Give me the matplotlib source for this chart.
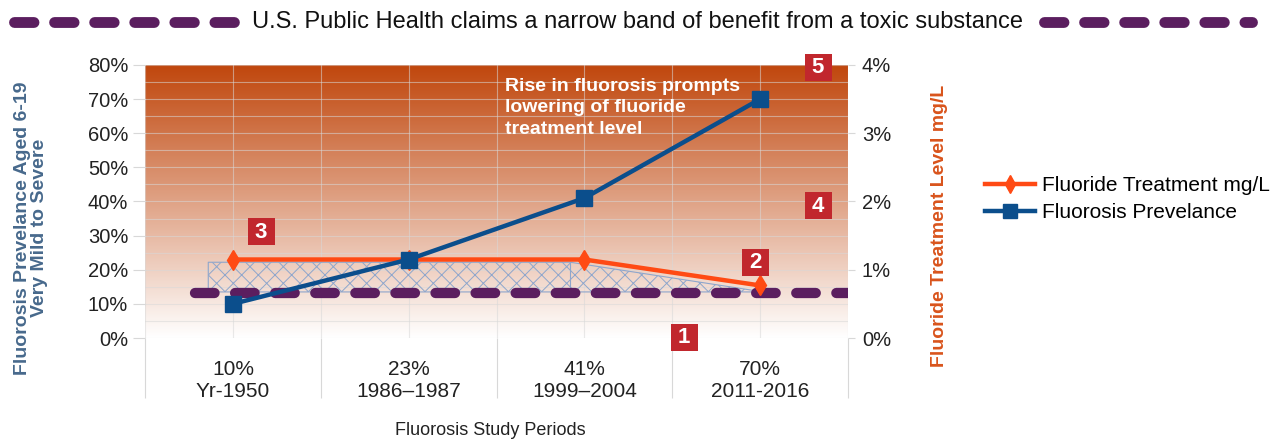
import numpy as np
import matplotlib
matplotlib.use("Agg")
import matplotlib.pyplot as plt
from matplotlib.lines import Line2D
from matplotlib.patches import Rectangle
from matplotlib.colors import LinearSegmentedColormap, Normalize

plt.rcParams['font.family'] = ['Liberation Sans', 'DejaVu Sans']
plt.rcParams['hatch.linewidth'] = 0.7

# ---------------- data ----------------
categories = ["10%\nYr-1950", "23%\n1986\u20131987", "41%\n1999\u20132004", "70%\n2011-2016"]
fluorosis_prevalence = [10, 23, 41, 70]          # % (left axis)
fluoride_treatment = [1.15, 1.15, 1.15, 0.77]    # mg/L shown as % (right axis)
benefit_floor = 0.66                              # purple dashed line (right axis)
band_x = [-0.14, 1.92, 2.98]                      # hatched band outline (category units)
band_top = [1.11, 1.11, 0.69]                     # right-axis units
band_bottom = 0.675
left_ticks = list(range(0, 81, 10))
right_ticks = list(range(0, 5))
badges = ["1", "2", "3", "4", "5"]
title = "U.S. Public Health claims a narrow band of benefit from a toxic substance"
annotation = "Rise in fluorosis prompts\nlowering of fluoride\ntreatment level"

# ---------------- styles ----------------
ORANGE = "#ff4a14"
BLUE = "#0b4e8c"
PURPLE = "#5b1e5f"
BADGE = "#c1272d"
GRID = "#d8d8d8"

W, H = 1286, 440
fig = plt.figure(figsize=(W / 100, H / 100), dpi=100)

L, R, T, B = 145, 848, 65, 338
ax = fig.add_axes([L / W, 1 - B / H, (R - L) / W, (B - T) / H])
ax2 = ax.twinx()
ax.set_zorder(ax2.get_zorder() + 1)
ax.patch.set_visible(False)

x = np.arange(len(categories))
ax.set_xlim(-0.5, len(categories) - 0.5)
ax.set_ylim(0, 80)
ax2.set_ylim(0, 4)

# gradient background
cmap = LinearSegmentedColormap.from_list("g", ["#ffffff", "#c0460c"])
grad = np.linspace(0, 1, 256).reshape(-1, 1)
ax2.imshow(grad, extent=[-0.5, len(categories) - 0.5, 0, 4], origin="lower",
           aspect="auto", cmap=cmap, norm=Normalize(0, 1), zorder=0)

# grid (horizontal every 0.25 right = 5% left, vertical every half category)
ax2.set_yticks(np.arange(0, 4.01, 0.25), minor=True)
ax2.grid(True, which="both", axis="y", color=GRID, lw=0.8, alpha=0.55, zorder=1)
for xv in np.arange(-0.5, len(categories), 0.5):
    ax2.axvline(xv, color=GRID, lw=0.8, alpha=0.55, zorder=1)

# hatched band
ax2.fill_between(band_x, band_top, band_bottom, facecolor="none", edgecolor="#8ea6cc",
                 hatch="xx", lw=0.8, zorder=2)
ax2.plot([band_x[1], band_x[1]], [band_bottom, band_top[1]], color="#8ea6cc", lw=0.8, zorder=2)

# purple dashed floor line
ax2.plot([-0.215, len(categories) - 0.5], [benefit_floor, benefit_floor], color=PURPLE,
         lw=7.4, dashes=(1.9, 2.0), solid_capstyle="round", dash_capstyle="round", zorder=3)

# series
ax2.plot(x, fluoride_treatment, color=ORANGE, lw=3.2, marker="d", ms=10.5, zorder=4,
         label="Fluoride Treatment mg/L")
ax.plot(x, fluorosis_prevalence, color=BLUE, lw=3.2, marker="s", ms=11.5, zorder=5,
        label="Fluorosis Prevelance")

# axes cosmetics
for a in (ax, ax2):
    for s in a.spines.values():
        s.set_visible(False)

ax.set_xticks(x)
ax.set_xticklabels(categories, fontsize=15, color="#222222", linespacing=1.2)
ax.set_xticks(np.arange(-0.5, len(categories), 1.0), minor=True)
ax.tick_params(axis="x", which="major", length=0, pad=16)
ax.tick_params(axis="x", which="minor", length=43, color=GRID, width=0.8)

ax.set_yticks(left_ticks)
ax.set_yticklabels([f"{v}%" for v in left_ticks], fontsize=14.5, color="#222222")
ax.tick_params(axis="y", length=8.6, color=GRID, width=0.8, pad=3.5)

ax2.set_yticks(right_ticks)
ax2.set_yticklabels([f"{v}%" for v in right_ticks], fontsize=14.5, color="#222222")
ax2.tick_params(axis="y", which="major", length=5, color=GRID, width=0.8, pad=5)
ax2.tick_params(axis="y", which="minor", length=0)

# annotation
ax.text(1.548, 76.3, annotation, color="white", fontsize=14, fontweight="bold",
        ha="left", va="top", linespacing=1.36, zorder=6)

# badges (pixel centers converted to axes data)
badge_px = [(684, 337), (755, 262), (261, 232), (818, 206), (818, 68)]
bw = 27
for label, (px, py) in zip(badges, badge_px):
    xd = -0.5 + (px - L) / (R - L) * len(categories)
    yd = (B - py) / (B - T) * 80
    wd = bw / (R - L) * len(categories)
    hd = bw / (B - T) * 80
    ax.add_patch(Rectangle((xd - wd / 2, yd - hd / 2), wd, hd, facecolor=BADGE,
                           edgecolor="none", zorder=7, clip_on=False))
    ax.text(xd, yd, label, color="white", fontsize=16, fontweight="bold",
            ha="center", va="center", zorder=8, clip_on=False)

# axis titles
fig.text(31 / W, 1 - 228 / H, "Fluorosis Prevelance Aged 6-19\nVery Mild to Severe",
         rotation=90, ha="center", va="center", fontsize=14, fontweight="bold",
         color="#47698c", multialignment="center", linespacing=1.0)
fig.text(940 / W, 1 - 226 / H, "Fluoride Treatment Level mg/L", rotation=90,
         ha="center", va="center", fontsize=14, fontweight="bold", color="#d9541c")
fig.text(490 / W, 1 - 430 / H, "Fluorosis Study Periods", ha="center", va="center",
         fontsize=13, color="#222222")

# title with purple dashes
fig.text(637 / W, 1 - 22 / H, title, ha="center", va="center", fontsize=17, color="#111111")
for x0, x1 in [(14, 240), (1044, 1252)]:
    fig.add_artist(Line2D([x0 / W, x1 / W], [1 - 22 / H, 1 - 22 / H], transform=fig.transFigure,
                          color=PURPLE, lw=7.8, dashes=(1.8, 1.9),
                          dash_capstyle="round", solid_capstyle="round"))

# legend
h1, l1 = ax2.get_legend_handles_labels()
h2, l2 = ax.get_legend_handles_labels()
fig.legend(h1 + h2, l1 + l2, loc="center left", bbox_to_anchor=(985 / W, 1 - 199 / H),
           frameon=False, fontsize=15, handlelength=2.4, handletextpad=0.35,
           labelspacing=0.4, borderaxespad=0, borderpad=0, markerscale=0.85)

fig.savefig("out.png", dpi=100)
